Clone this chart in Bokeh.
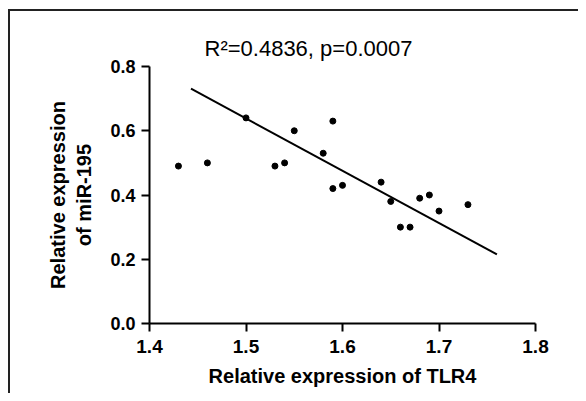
from bokeh.plotting import figure
from bokeh.models import Range1d, FixedTicker, ColumnDataSource, Title
from bokeh.embed import file_html
from bokeh.resources import INLINE

# Data
tlr4 = [1.43, 1.46, 1.50, 1.53, 1.54, 1.55, 1.59, 1.58, 1.59, 1.60,
        1.64, 1.65, 1.66, 1.67, 1.68, 1.69, 1.70, 1.73]
mir195 = [0.49, 0.50, 0.64, 0.49, 0.50, 0.60, 0.63, 0.53, 0.42, 0.43,
          0.44, 0.38, 0.30, 0.30, 0.39, 0.40, 0.35, 0.37]
fit_x = [1.443, 1.760]
fit_y = [0.731, 0.215]
x_ticks = [1.4, 1.5, 1.6, 1.7, 1.8]
y_ticks = [0.0, 0.2, 0.4, 0.6, 0.8]
stats_text = "R\u00b2=0.4836, p=0.0007"

FONT = "Liberation Sans"

p = figure(width=578, height=393, output_backend="svg", toolbar_location=None,
           x_range=Range1d(1.4, 1.8), y_range=Range1d(0.0, 0.8),
           min_border_left=149, min_border_right=43, min_border_top=66,
           min_border_bottom=70)
p.outline_line_color = None
p.grid.visible = False
p.background_fill_color = None
p.border_fill_color = None
# thin page frame (top and left edges) drawn behind the transparent canvas
p.styles = {
    "background": ("linear-gradient(#222,#222) 8px 9px / 2px calc(100% - 9px) no-repeat, "
                   "linear-gradient(#222,#222) 8px 9px / calc(100% - 8px) 2px no-repeat, "
                   "white"),
}

src = ColumnDataSource(dict(x=tlr4, y=mir195))
p.scatter("x", "y", source=src, size=6, color="black")
p.line(fit_x, fit_y, line_width=2, color="black")

for ax in (p.xaxis[0], p.yaxis[0]):
    ax.axis_line_width = 2
    ax.axis_line_color = "black"
    ax.major_tick_line_width = 2
    ax.major_tick_line_color = "black"
    ax.major_tick_out = 8
    ax.major_tick_in = 0
    ax.minor_tick_line_color = None
    ax.major_label_text_font = FONT
    ax.major_label_text_font_style = "bold"
    ax.major_label_text_color = "black"
    ax.axis_label_text_font = FONT
    ax.axis_label_text_font_style = "bold"
    ax.axis_label_text_font_size = "20px"
    ax.axis_label_text_color = "black"

p.xaxis.ticker = FixedTicker(ticks=x_ticks)
p.yaxis.ticker = FixedTicker(ticks=y_ticks)
p.xaxis.major_label_overrides = {t: f"{t:.1f}" for t in x_ticks}
p.yaxis.major_label_overrides = {t: f"{t:.1f}" for t in y_ticks}
p.xaxis.major_label_text_font_size = "19px"
p.yaxis.major_label_text_font_size = "18px"
p.xaxis.major_label_standoff = 8
p.yaxis.major_label_standoff = 6
p.xaxis.axis_label = "Relative expression of TLR4"
p.yaxis.axis_label = "Relative expression\nof miR-195"
p.xaxis.axis_label_standoff = 9
p.yaxis.axis_label_standoff = 12

p.add_layout(Title(text=stats_text, align="left", offset=55,
                   text_font=FONT, text_font_size="22px",
                   text_font_style="normal", text_color="black", standoff=11),
             "above")

open("out.html", "w").write(file_html(p, INLINE))
